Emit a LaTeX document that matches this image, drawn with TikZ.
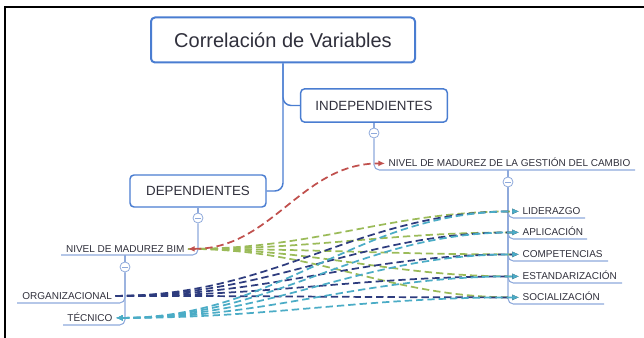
\documentclass[tikz,border=0pt]{standalone}
\usepackage{fontspec}
\setmainfont{Liberation Sans}
\usepackage{tikz}
\usetikzlibrary{calc,positioning,arrows.meta,shapes}
\definecolor{boxblue}{HTML}{4A7DD1}
\definecolor{lineblue}{HTML}{8EA9DB}
\definecolor{txt}{HTML}{30303C}
\definecolor{bimgreen}{HTML}{9BBB59}
\definecolor{orgnavy}{HTML}{2E3C7E}
\definecolor{teccyan}{HTML}{4BACC6}
\definecolor{gcred}{HTML}{C0504D}

\begin{document}
\begin{tikzpicture}[x=0.75pt,y=-0.75pt,>={Latex[length=5pt,width=4.5pt]},
    box/.style={draw=boxblue,line width=1.1pt,rounded corners=3pt,fill=white,text=txt},
    leaf/.style={font=\fontsize{7.5}{9}\selectfont,text=txt,inner xsep=2.5pt,inner ysep=0pt,text height=5.4pt,text depth=0pt},
    fold/.style={circle,draw=lineblue,fill=white,minimum size=7.5pt,inner sep=0pt,line width=0.6pt,
      path picture={\draw[lineblue,line width=0.6pt] ([xshift=-2.2pt]path picture bounding box.center) -- ([xshift=2.2pt]path picture bounding box.center);}},
    stem/.style={draw=boxblue,line width=1.1pt,rounded corners=6pt},
    twig/.style={draw=lineblue,line width=0.8pt,rounded corners=4pt},
    rel/.style={line width=1.3pt,dash pattern=on 5.5pt off 3pt}]
     \useasboundingbox (0,0) rectangle (644,338);
     \draw[line width=1.2pt] (5,338) -- (5,7) -- (644,7);

     \node[box,line width=1.5pt,minimum width=198pt,minimum height=33.75pt,font=\fontsize{15}{18}\selectfont] (title) at (283,40) {Correlación de Variables};
     \node[box,minimum width=110pt,minimum height=25pt,font=\fontsize{10}{12}\selectfont] (indep) at (374,105.5) {INDEPENDIENTES};
     \node[box,minimum width=102pt,minimum height=24pt,font=\fontsize{10}{12}\selectfont] (dep) at (198,191) {DEPENDIENTES};

     \node[fold] (c1) at (374,133) {};
     \node[fold] (c2) at (198,218) {};
     \node[fold] (c3) at (125,267) {};
     \node[fold] (c4) at (508,182) {};

     \node[leaf,anchor=base west] (gc) at (385,167) {NIVEL DE MADUREZ DE LA GESTIÓN DEL CAMBIO};
     \node[leaf,anchor=base west] (lid) at (519,215) {LIDERAZGO};
     \node[leaf,anchor=base west] (apl) at (519,236) {APLICACIÓN};
     \node[leaf,anchor=base west] (comp) at (519,258) {COMPETENCIAS};
     \node[leaf,anchor=base west] (est) at (519,280) {ESTANDARIZACIÓN};
     \node[leaf,anchor=base west] (soc) at (519,301) {SOCIALIZACIÓN};
     \node[leaf,anchor=base east] (bim) at (188,252.5) {NIVEL DE MADUREZ BIM};
     \node[leaf,anchor=base east] (org) at (115.5,299.5) {ORGANIZACIONAL};
     \node[leaf,anchor=base east] (tec) at (116,321.5) {TÉCNICO};

     \coordinate (gcu) at (635,170);
     \coordinate (lidu) at (585,218);
     \coordinate (aplu) at (587,239);
     \coordinate (compu) at (608,261);
     \coordinate (estu) at (622,283);
     \coordinate (socu) at (604,304);
     \coordinate (bimu) at (61,255);
     \coordinate (orgu) at (17,303);
     \coordinate (tecu) at (63,325);

     \draw[stem] (title.south) |- (indep.west);
     \draw[stem] (title.south) |- (dep.east);
     \draw[twig] (indep.south) -- (c1.north);
     \draw[twig] (dep.south) -- (c2.north);
     \draw[twig] (c1.south) |- (gcu);
     \draw[twig] (c4.north) -- (c4.north |- gcu);
     \draw[twig] (c4.south) |- (lidu);
     \draw[twig] (c4.south) |- (aplu);
     \draw[twig] (c4.south) |- (compu);
     \draw[twig] (c4.south) |- (estu);
     \draw[twig] (c4.south) |- (socu);
     \draw[twig] (c2.south) |- (bimu);
     \draw[twig] (c3.north) -- (c3.north |- bimu);
     \draw[twig] (c3.south) |- (orgu);
     \draw[twig] (c3.south) |- (tecu);

     \draw[rel,bimgreen,->] (bim.east) to[out=0,in=180] (lid.west);
     \draw[rel,bimgreen,->] (bim.east) to[out=0,in=180] (apl.west);
     \draw[rel,bimgreen,->] (bim.east) to[out=0,in=180] (comp.west);
     \draw[rel,bimgreen,->] (bim.east) to[out=0,in=180] (est.west);
     \draw[rel,bimgreen,->] (bim.east) to[out=0,in=180] (soc.west);
     \draw[rel,orgnavy,->] (org.east) to[out=0,in=180] (lid.west);
     \draw[rel,orgnavy,->] (org.east) to[out=0,in=180] (apl.west);
     \draw[rel,orgnavy,->] (org.east) to[out=0,in=180] (comp.west);
     \draw[rel,orgnavy,->] (org.east) to[out=0,in=180] (est.west);
     \draw[rel,orgnavy,->] (org.east) to[out=0,in=180] (soc.west);
     \draw[rel,teccyan,<->] (tec.east) to[out=0,in=180] (lid.west);
     \draw[rel,teccyan,<->] (tec.east) to[out=0,in=180] (apl.west);
     \draw[rel,teccyan,<->] (tec.east) to[out=0,in=180] (comp.west);
     \draw[rel,teccyan,<->] (tec.east) to[out=0,in=180] (est.west);
     \draw[rel,teccyan,<->] (tec.east) to[out=0,in=180] (soc.west);
     \draw[rel,gcred,<->] (bim.east) to[out=0,in=180] (gc.west);
\end{tikzpicture}
\end{document}
